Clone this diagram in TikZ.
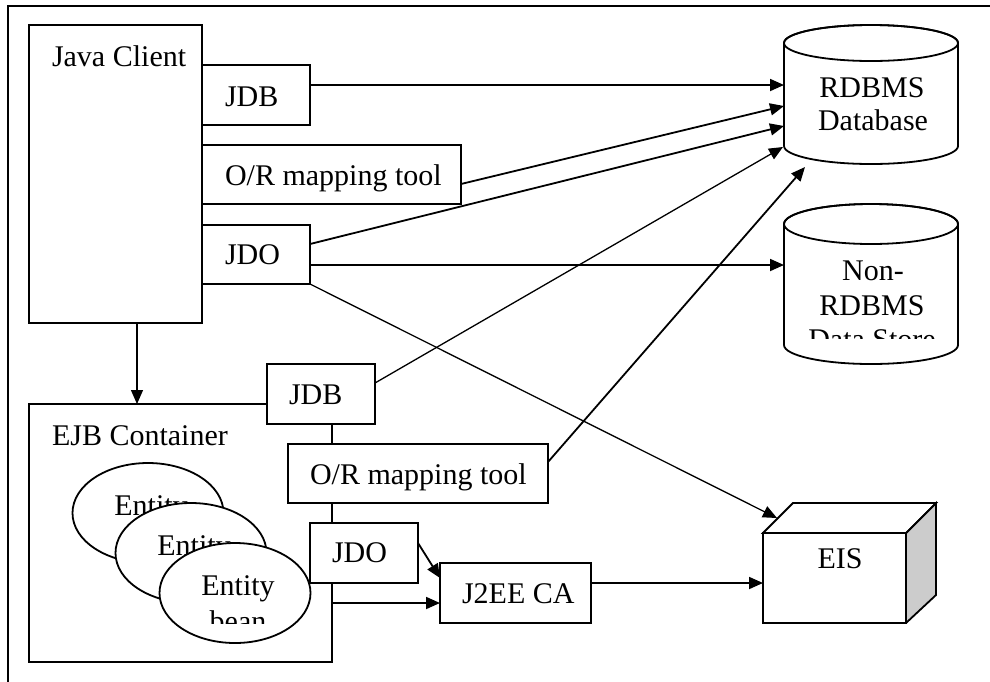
\documentclass[tikz,border=0pt]{standalone}
\usepackage{fontspec}
\setmainfont{Liberation Serif}
\usetikzlibrary{shapes.geometric,arrows.meta,calc}
\begin{document}
\begin{tikzpicture}[x=1pt,y=-1pt,line join=miter,
  box/.style={draw,line width=1.8pt,fill=white,rectangle,inner sep=0pt,outer sep=0pt,anchor=north west},
  lbl/.style={font=\fontsize{30}{34}\selectfont,inner sep=0pt,outer sep=0pt},
  arr/.style={line width=1.8pt,-{Triangle[length=14pt,width=12pt]}},
  tarr/.style={line width=1.3pt,-{Triangle[length=14pt,width=12pt]}},
  cyl/.style={line width=1.8pt,fill=white},
  bean/.style={ellipse,draw,line width=1.8pt,fill=white,inner sep=0pt,outer sep=0pt,minimum width=151pt,minimum height=100pt}]
\useasboundingbox (0,0) rectangle (990,681);
\fill[white] (0,0) rectangle (990,681);
\draw[line width=2pt] (8,700) -- (8,6) -- (1000,6);

% Java client and its tools
\node[box,minimum width=173pt,minimum height=298pt] (jc) at (29,25) {};
\node[lbl,anchor=base west] (jct) at (52,66) {Java Client};
\node[box,minimum width=108pt,minimum height=60pt] (jdb1) at (202,65) {};
\node[lbl,anchor=base west] (jdb1t) at (225,106) {JDB};
\node[box,minimum width=259pt,minimum height=59pt] (or1) at (202,145) {};
\node[lbl,anchor=base west] (or1t) at (225,185) {O/R mapping tool};
\node[box,minimum width=108pt,minimum height=59pt] (jdo1) at (202,225) {};
\node[lbl,anchor=base west] (jdo1t) at (225,264) {JDO};

% RDBMS cylinder
\draw[cyl] (784,43) -- (784,146) arc[start angle=180,end angle=360,x radius=87pt,y radius=18pt] -- (958,43) arc[start angle=0,end angle=180,x radius=87pt,y radius=18pt] -- cycle;
\draw[line width=1.8pt] (871,43) ellipse [x radius=87pt,y radius=18pt];
\node[inner sep=0pt,outer sep=0pt,minimum width=174pt,minimum height=103pt,anchor=north west] (rdb) at (784,43) {};
\node[lbl,anchor=base] (rdbt1) at (872,97) {RDBMS};
\node[lbl,anchor=base] (rdbt2) at (873,130) {Database};

% Non-RDBMS cylinder
\draw[cyl] (784,224) -- (784,345) arc[start angle=180,end angle=360,x radius=87pt,y radius=19pt] -- (958,224) arc[start angle=0,end angle=180,x radius=87pt,y radius=20pt] -- cycle;
\draw[line width=1.8pt] (871,224) ellipse [x radius=87pt,y radius=20pt];
\node[inner sep=0pt,outer sep=0pt,minimum width=174pt,minimum height=121pt,anchor=north west] (nrdb) at (784,224) {};
\node[lbl,anchor=base] (nrdbt1) at (873,280) {Non-};
\node[lbl,anchor=base] (nrdbt2) at (872,315) {RDBMS};
\begin{scope}
\clip (786,320) rectangle (956,338);
\node[lbl,anchor=base] (nrdbt3) at (872,349) {Data Store};
\end{scope}

% EJB container
\node[box,minimum width=303pt,minimum height=258pt] (ejb) at (29,404) {};
\node[lbl,anchor=base west] (ejbt) at (52,445) {EJB Container};

% entity beans (stacked; only the visible parts of the texts)
\node[bean] (e1) at (148,513) {};
\node[lbl,anchor=base] (e1t1) at (151,515) {Entity};
\node[bean] (e2) at (191,553) {};
\node[lbl,anchor=base] (e2t1) at (194,555) {Entity};
\node[bean] (e3) at (235,593) {};
\begin{scope}
\clip (165,550) rectangle (305,623);
\node[lbl,anchor=base] (e3t1) at (238,595) {Entity};
\node[lbl,anchor=base] (e3t2) at (238,631) {bean};
\end{scope}

% container tools
\node[box,minimum width=108pt,minimum height=60pt] (jdb2) at (267,364) {};
\node[lbl,anchor=base west] (jdb2t) at (289,404) {JDB};
\node[box,minimum width=260pt,minimum height=59pt] (or2) at (288,444) {};
\node[lbl,anchor=base west] (or2t) at (310,484) {O/R mapping tool};
\node[box,minimum width=108pt,minimum height=60pt] (jdo2) at (310,523) {};
\node[lbl,anchor=base west] (jdo2t) at (332,562) {JDO};
\node[box,minimum width=151pt,minimum height=60pt] (j2ee) at (440,563) {};
\node[lbl,anchor=base west] (j2eet) at (462,603) {J2EE CA};

% EIS box
\fill[gray!40] (906,533) -- (936,503) -- (936,595) -- (906,623) -- cycle;
\draw[line width=1.8pt,fill=white] (763,533) -- (793,503) -- (936,503) -- (906,533) -- cycle;
\draw[line width=1.8pt] (906,533) -- (936,503) -- (936,595) -- (906,623);
\node[box,minimum width=143pt,minimum height=90pt] (eis) at (763,533) {};
\node[lbl,anchor=base] (eist) at (840,568) {EIS};

% arrow end points
\coordinate (r1) at (784,85);
\coordinate (r2) at (784,106);
\coordinate (r3) at (784,126);
\coordinate (r4) at (783,147);
\coordinate (r5) at (805,167);
\coordinate (n1) at (784,265);
\coordinate (eisin) at (777,518);

% connectors
\draw[arr] ($(jdb1.north east)+(0,20)$) -- (r1);
\draw[arr] ($(or1.north east)+(0,39)$) -- (r2);
\draw[arr] ($(jdo1.north east)+(0,19)$) -- (r3);
\draw[arr] ($(jdo1.north east)+(0,40)$) -- (n1);
\draw[tarr] (jdo1.south east) -- (eisin);
\draw[tarr] ($(jc.south west)+(108,0)$) -- ($(ejb.north west)+(108,0)$);
\draw[tarr] ($(jdb2.north east)+(0,19)$) -- (r4);
\draw[arr] ($(or2.north east)+(0,18)$) -- (r5);
\draw[arr] ($(jdo2.north east)+(0,20)$) -- ($(j2ee.north west)+(0,15)$);
\draw[arr] ($(ejb.north east)+(0,199)$) -- ($(j2ee.north west)+(0,40)$);
\draw[arr] ($(j2ee.north east)+(0,20)$) -- ($(eis.north west)+(0,50)$);
\end{tikzpicture}
\end{document}
